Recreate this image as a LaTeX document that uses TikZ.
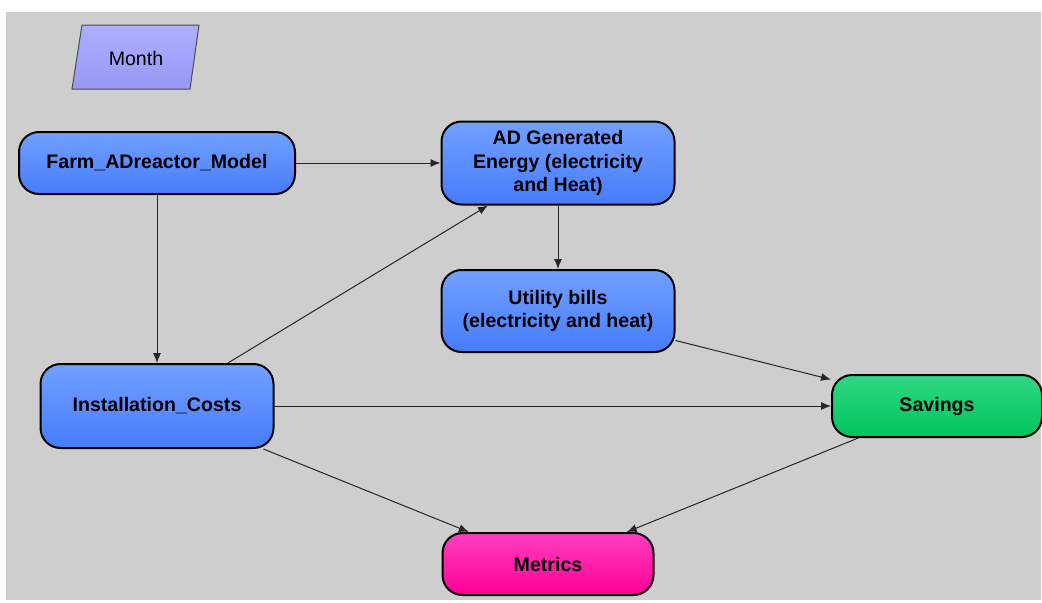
\documentclass[tikz,border=0pt]{standalone}
\usepackage{fontspec}
\setmainfont{Liberation Sans}
\usetikzlibrary{positioning,arrows.meta}

\definecolor{bgray}{RGB}{206,206,206}
\definecolor{bluetop}{RGB}{114,160,255}
\definecolor{bluebot}{RGB}{70,124,250}
\definecolor{greentop}{RGB}{48,216,132}
\definecolor{greenbot}{RGB}{0,196,92}
\definecolor{pinktop}{RGB}{255,62,192}
\definecolor{pinkbot}{RGB}{255,0,150}
\definecolor{lavtop}{RGB}{174,174,255}
\definecolor{lavbot}{RGB}{152,152,246}

\begin{document}
\begin{tikzpicture}[x=0.5pt,y=-0.5pt,
    box/.style={draw=black, line width=1pt, rounded corners=10pt,
                align=center, font=\fontsize{9.8}{11.6}\selectfont\bfseries,
                inner sep=2pt},
    bluebox/.style={box, top color=bluetop, bottom color=bluebot},
    link/.style={draw=black!85, line width=0.5pt,
                 -{Latex[length=5pt,width=4pt]}}]
  % background and margins
  \useasboundingbox (0,0) rectangle (1042,602);
  \fill[bgray] (6,12) rectangle (1041,600);

  % input
  \shade[top color=lavtop, bottom color=lavbot, draw=black!70, line width=0.5pt]
    (82,25) -- (199,25) -- (190,89) -- (72,89) -- cycle;
  \node (month) at (136,58) {\fontsize{9.8}{11.6}\selectfont Month};

  % model nodes
  \node[bluebox, minimum width=138pt, minimum height=31pt] (farm) at (157,163)
    {Farm\_ADreactor\_Model};
  \node[bluebox, minimum width=116.5pt, minimum height=41.5pt] (energy) at (558,163)
    {AD Generated\\Energy (electricity\\and Heat)};
  \node[bluebox, minimum width=116.5pt, minimum height=41pt] (bills) at (558,311)
    {Utility bills\\(electricity and heat)};
  \node[bluebox, minimum width=116.5pt, minimum height=42pt] (costs) at (157,406)
    {Installation\_Costs};
  \node[box, top color=greentop, bottom color=greenbot,
        minimum width=105pt, minimum height=31pt] (savings) at (937,406)
    {Savings};
  \node[box, top color=pinktop, bottom color=pinkbot,
        minimum width=105.5pt, minimum height=31pt] (metrics) at (548,564)
    {Metrics};

  % links
  \draw[link] (farm) -- (energy);
  \draw[link] (farm) -- (costs);
  \draw[link] (costs) -- (energy);
  \draw[link] (energy) -- (bills);
  \draw[link] (bills) -- (savings);
  \draw[link] (costs) -- (savings);
  \draw[link] (costs) -- (metrics);
  \draw[link] (savings) -- (metrics);
\end{tikzpicture}
\end{document}
